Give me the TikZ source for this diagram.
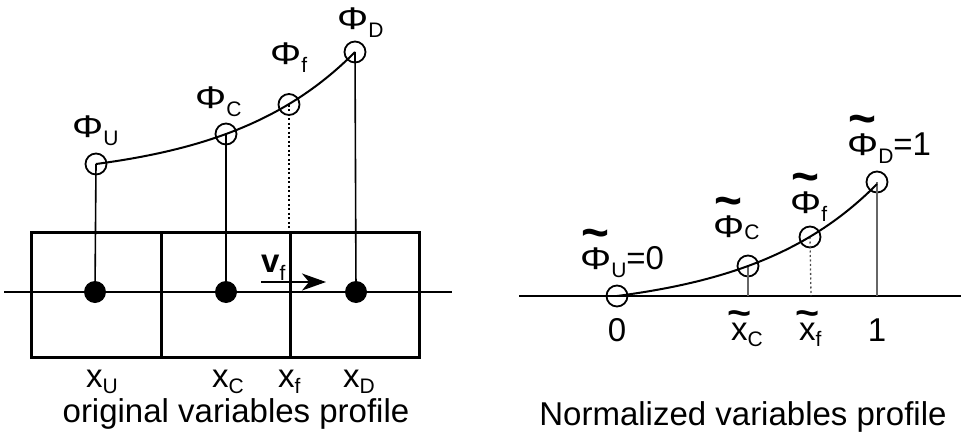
\documentclass[tikz,border=0pt]{standalone}
\usepackage{fontspec}
\setmainfont{Liberation Sans}
\usetikzlibrary{arrows.meta}
\newcommand{\sbs}[1]{\raisebox{-8pt}{\fontsize{21}{21}\selectfont #1}}
\newcommand{\sbsl}[2]{\raisebox{#2}{\fontsize{21}{21}\selectfont #1}}
\newcommand{\Ph}{\scalebox{1.18}[0.95]{Φ}}
\newcommand{\tld}[4]{{\ooalign{#1\cr\hidewidth\raisebox{#2}{\scalebox{#3}[#4]{\bfseries\char"7E}}\hidewidth\cr}}}
\newcommand{\tPhi}{\tld{\Ph}{0.6em}{1.45}{1.5}}
\newcommand{\tx}{\tld{x}{0.45em}{1.25}{1.1}}
\begin{document}
\begin{tikzpicture}[x=1pt,y=-1pt,
  lbl/.style={anchor=base west,inner sep=0pt,font=\fontsize{33}{40}\selectfont},
  ctr/.style={anchor=base,inner sep=0pt,font=\fontsize{33}{40}\selectfont},
  hollow/.style={circle,draw,line width=1.8pt,minimum size=21pt,inner sep=0pt},
  solidpt/.style={circle,fill,minimum size=22pt,inner sep=0pt},
  stem/.style={line width=1.6pt},
  gstem/.style={line width=1.6pt,draw=black!60},
  dotstem/.style={line width=1.3pt,dash pattern=on 2pt off 2.5pt},
  curve/.style={line width=2pt},
  axis/.style={line width=2pt},
  cell/.style={line width=3pt}]
\useasboundingbox (0,0) rectangle (961,436);
% ---------------- left ----------------
\draw[cell] (31,232) rectangle (419,357);
\draw[cell] (161,232) -- (161,357);
\draw[cell] (290,232) -- (290,357);
\coordinate (la) at (4,292);
\coordinate (lb) at (452,292);
\draw[axis] (la) -- (lb);
\node[solidpt] (dU) at (95,292) {};
\node[solidpt] (dC) at (226,292) {};
\node[solidpt] (dD) at (356,292) {};
\node[hollow] (cU) at (96,164) {};
\node[hollow] (cC) at (226,134) {};
\node[hollow] (cf) at (289,104.5) {};
\node[hollow] (cD) at (355,52) {};
\coordinate (ftop) at (289,232);
\draw[stem] (cU.center) -- (dU.center);
\draw[stem] (cC.center) -- (dC.center);
\draw[stem] (cD.center) -- (dD.center);
\draw[dotstem] (cf.center) -- (ftop);
\draw[curve] plot[domain=96:355,samples=80,smooth] (\x,{164-16.98*(exp(0.00783*(\x-96))-1)});
\coordinate (vs) at (261,282);
\coordinate (ve) at (326,282);
\draw[line width=1.8pt,-{Stealth[length=24pt,width=17pt,inset=7pt]}] (vs) -- (ve);
\node[lbl] (tvf) at (261,272) {\textbf{v}\sbs{f}};
\node[lbl] (tPU) at (72,137) {\Ph\sbs{U}};
\node[lbl] (tPC) at (195,108) {\Ph\sbs{C}};
\node[lbl] (tPf) at (270,65) {\Ph\sbs{f}};
\node[lbl] (tPD) at (337,30) {\Ph\sbs{D}};
\node[lbl] (txU) at (86,387) {x\sbsl{U}{-6pt}};
\node[lbl] (txC) at (212,387) {x\sbsl{C}{-6pt}};
\node[lbl] (txf) at (278,387) {x\sbsl{f}{-6pt}};
\node[lbl] (txD) at (343,387) {x\sbsl{D}{-6pt}};
\node[ctr] (tleft) at (236,422) {original variables profile};
% ---------------- right ----------------
\coordinate (ra) at (519,296);
\coordinate (rb) at (961,296);
\draw[axis] (ra) -- (rb);
\node[hollow] (nU) at (617,296) {};
\node[hollow] (nC) at (748,266) {};
\node[hollow] (nf) at (810,237) {};
\node[hollow] (nD) at (877,182) {};
\coordinate (bC) at (748,296);
\coordinate (bf) at (811,296);
\coordinate (bD) at (877,296);
\draw[gstem] (nC.center) -- (bC);
\draw[dotstem,draw=black!70] (nf.center) -- (bf);
\draw[gstem] (nD.center) -- (bD);
\draw[curve] plot[domain=617:877,samples=80,smooth] (\x,{296-16.67*(exp(0.00786*(\x-617))-1)});
\node[lbl] (rPU) at (580,269) {\tPhi\sbs{U}=0};
\node[lbl] (rPC) at (713,237) {\tPhi\sbsl{C}{-2pt}};
\node[lbl] (rPf) at (790,213) {\tPhi\sbs{f}};
\node[lbl] (rPD) at (847,155) {\tPhi\sbs{D}=1};
\node[ctr] (r0) at (617,341) {0};
\node[lbl] (rxC) at (731,340) {\tx\sbsl{C}{-6pt}};
\node[lbl] (rxf) at (799,340) {\tx\sbsl{f}{-6pt}};
\node[ctr] (r1) at (877,341) {1};
\node[ctr] (tright) at (743,425) {Normalized variables profile};
\end{tikzpicture}
\end{document}
